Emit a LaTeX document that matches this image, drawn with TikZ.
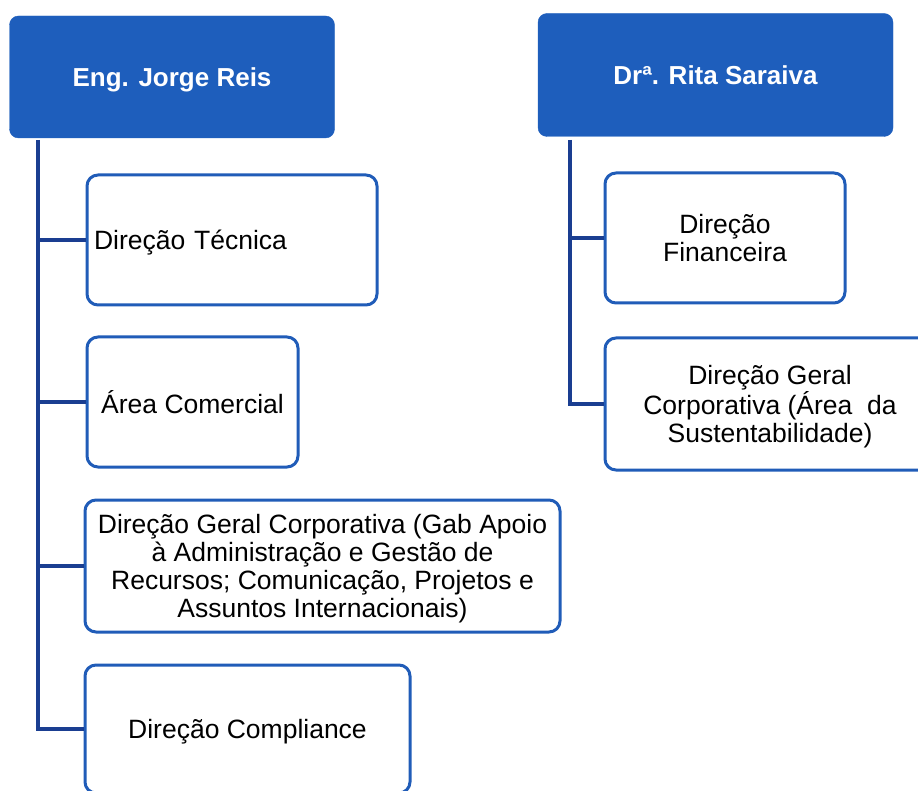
\documentclass[tikz,border=0pt]{standalone}
\usepackage{fontspec}
\setmainfont{Liberation Sans}
\definecolor{headblue}{RGB}{30,94,188}
\definecolor{lineblue}{RGB}{26,62,145}
\definecolor{boxblue}{RGB}{32,92,184}
\begin{document}
\begin{tikzpicture}[x=1pt,y=-1pt,
        head/.style={rectangle,rounded corners=9pt,draw=headblue,fill=headblue,text=white,text depth=0pt,font=\bfseries\fontsize{26}{28}\selectfont},
        unit/.style={rectangle,rounded corners=11pt,draw=boxblue,line width=3pt,fill=white,align=center,text depth=0pt,font=\fontsize{26.5}{28}\selectfont},
        branch/.style={draw=lineblue,line width=3.5pt}]
    \useasboundingbox (0,0) rectangle (918,791);
    \clip (0,0) rectangle (918,791);
    % left column
    \node[head,minimum width=325pt,minimum height=122pt] (reis) at (172,77) {Eng. Jorge Reis};
    \node[unit,minimum width=290pt,minimum height=130pt,text width=276pt,align=left,inner sep=5pt] (tecnica) at (232,240) {Dire\c{c}\~ao T\'ecnica};
    \node[unit,minimum width=211pt,minimum height=130pt] (comercial) at (192.5,402) {\'Area Comercial};
    \node[unit,minimum width=475pt,minimum height=132pt,inner sep=2pt] (dgc) at (322.5,566) {Dire\c{c}\~ao Geral Corporativa (Gab Apoio\\\`a Administra\c{c}\~ao e Gest\~ao de\\Recursos; Comunica\c{c}\~ao, Projetos e\\Assuntos Internacionais)};
    \node[unit,minimum width=325pt,minimum height=128pt] (compliance) at (247.5,729) {Dire\c{c}\~ao Compliance};
    \coordinate (reis trunk) at (38,140);
    \draw[branch] (reis trunk) -- (reis trunk |- compliance.west) -- (compliance.west);
    \foreach \n in {tecnica,comercial,dgc}
        \draw[branch] (reis trunk |- \n.west) -- (\n.west);
    % right column
    \node[head,minimum width=355pt,minimum height=123pt] (saraiva) at (715.5,75) {Drª. Rita Saraiva};
    \node[unit,minimum width=240pt,minimum height=130pt] (financeira) at (725,238) {Dire\c{c}\~ao\\Financeira};
    \node[unit,minimum width=330pt,minimum height=132pt] (sustent) at (770,404) {Dire\c{c}\~ao Geral\\Corporativa (\'Area\ \ da\\Sustentabilidade)};
    \coordinate (saraiva trunk) at (570,140);
    \draw[branch] (saraiva trunk) -- (saraiva trunk |- sustent.west) -- (sustent.west);
    \draw[branch] (saraiva trunk |- financeira.west) -- (financeira.west);
\end{tikzpicture}
\end{document}
